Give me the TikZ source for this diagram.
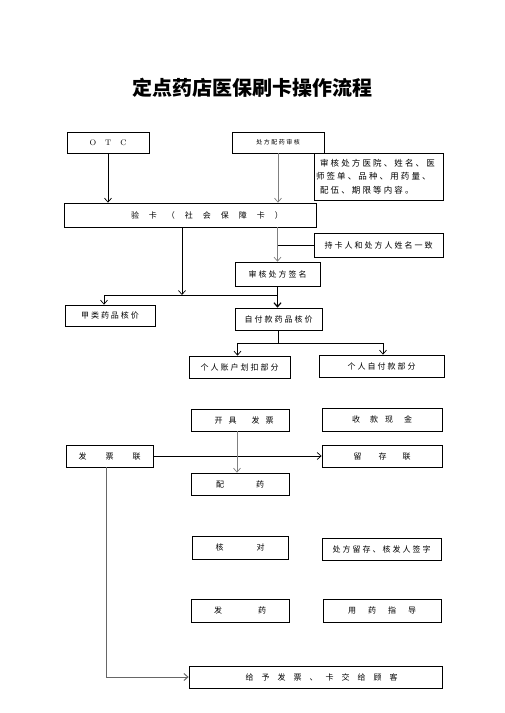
\documentclass[tikz,border=0pt]{standalone}
\usepackage{fontspec}
\newfontfamily\cjk{Noto Sans CJK SC}
\usetikzlibrary{arrows.meta}
\tikzset{
 box/.style={draw,line width=0.7pt,minimum height=22pt,inner sep=1pt,font=\cjk\fontsize{8}{10}\selectfont},
 arr/.style={-{Straight Barb[length=4pt,width=7pt]},line width=0.7pt},
 garr/.style={arr,gray},
}
\newcommand{\ls}[2]{{\addfontfeature{LetterSpace=#1}#2}}
\begin{document}
\begin{tikzpicture}[x=1pt,y=-1pt]
 \useasboundingbox (0,0) rectangle (504,713);
 \node[font=\cjk\bfseries\fontsize{20}{20}\selectfont] (title) at (252,88) {定点药店医保刷卡操作流程};
 % top row
 \node[box,minimum width=82pt,minimum height=21pt,font=\fontsize{8}{10}\selectfont] (otc) at (108,142.5) {O\hspace{9pt}T\hspace{9pt}C};
 \node[box,minimum width=92pt,minimum height=21pt,font=\cjk\fontsize{6}{7}\selectfont] (rx) at (278,142.5) {\ls{25}{处方配药审核}};
 \node[box,minimum width=129pt,minimum height=47pt,text width=125pt,align=left,font=\cjk\fontsize{8.5}{13.5}\selectfont] (note) at (378.5,176.5) {\ls{25}{\hspace{4pt}审核处方医院、姓名、医\\师签单、品种、用药量、\\\hspace{4pt}配伍、期限等内容。}};
 \node[box,minimum width=252pt,minimum height=24pt] (card) at (190,215) {\hspace*{34pt}\ls{125}{验卡（社会保障卡）}};
 \node[box,minimum width=129pt,minimum height=24pt] (match) at (378.5,245) {\ls{25}{持卡人和处方人姓名一致}};
 \node[box,minimum width=85pt,minimum height=24pt] (signchk) at (277.5,274) {\ls{25}{审核处方签名}};
 \node[box,minimum width=90pt,minimum height=21pt] (classa) at (110,315.5) {\ls{25}{甲类药品核价}};
 \node[box,minimum width=87pt] (selfpay) at (278.5,319) {\ls{25}{自付款药品核价}};
 \node[box,minimum width=101pt] (account) at (239.5,367) {\ls{25}{个人账户划扣部分}};
 \node[box,minimum width=125pt] (cashpart) at (381.5,366) {\ls{25}{个人自付款部分}};
 % invoice part
 \node[box,minimum width=98pt] (invoice) at (240,420) {\hspace*{8pt}开\hspace{6pt}具\hspace{15pt}发\hspace{6pt}票};
 \node[box,minimum width=120pt,minimum height=23pt] (collect) at (382,419.5) {收\hspace{10pt}款\hspace{7pt}现\hspace{11pt}金};
 \node[box,minimum width=87pt] (stub) at (109.5,456) {发\hspace{19pt}票\hspace{19pt}联};
 \node[box,minimum width=120pt] (keep) at (382,456) {留\hspace{17pt}存\hspace{16pt}联};
 \node[box,minimum width=98pt] (dispense) at (240,484) {配\hspace{32pt}药};
 \node[box,minimum width=96pt,minimum height=23pt] (verify) at (240,547.5) {核\hspace{33pt}对};
 \node[box,minimum width=119pt] (retain) at (381.5,549) {\ls{25}{处方留存、核发人签字}};
 \node[box,minimum width=98pt,minimum height=23pt] (issue) at (240,610.5) {发\hspace{36pt}药};
 \node[box,minimum width=118pt,minimum height=23pt] (guide) at (382,610.5) {用\hspace{12pt}药\hspace{12pt}指\hspace{12pt}导};
 \node[box,minimum width=253pt] (handover) at (315.5,677) {\hspace*{12pt}\ls{100}{给予发票、卡交给顾客}};
 % connectors
 \draw[arr] (otc) -- (otc |- card.north);
 \draw[garr] (rx) -- (rx |- card.north);
 \coordinate (fork) at (182,295);
 \draw[arr] (fork |- card.south) -- (fork);
 \draw[garr] (signchk |- card.south) -- (signchk.north);
 \draw[line width=0.7pt] (match.west) -- (signchk.north |- match.west);
 \draw[arr,line width=1.2pt] (signchk.south) -- (signchk.south |- selfpay.north);
 \draw[arr] (signchk.south |- fork) -| ([xshift=-6pt]classa.north);
 \draw[line width=0.7pt] (selfpay.south) -- ++(0,13) coordinate (fork2);
 \draw[arr] (fork2) -| ([xshift=-2pt]account.north);
 \draw[arr] (fork2) -| ([xshift=1.5pt]cashpart.north);
 \draw[arr] (stub) -- (keep);
 \draw[garr] ([xshift=-3pt]invoice.south) -- ([xshift=-3pt]dispense.north);
 \draw[arr,gray!80!black,line width=1pt] ([xshift=-3.5pt]stub.south) |- (handover.west);
\end{tikzpicture}
\end{document}
